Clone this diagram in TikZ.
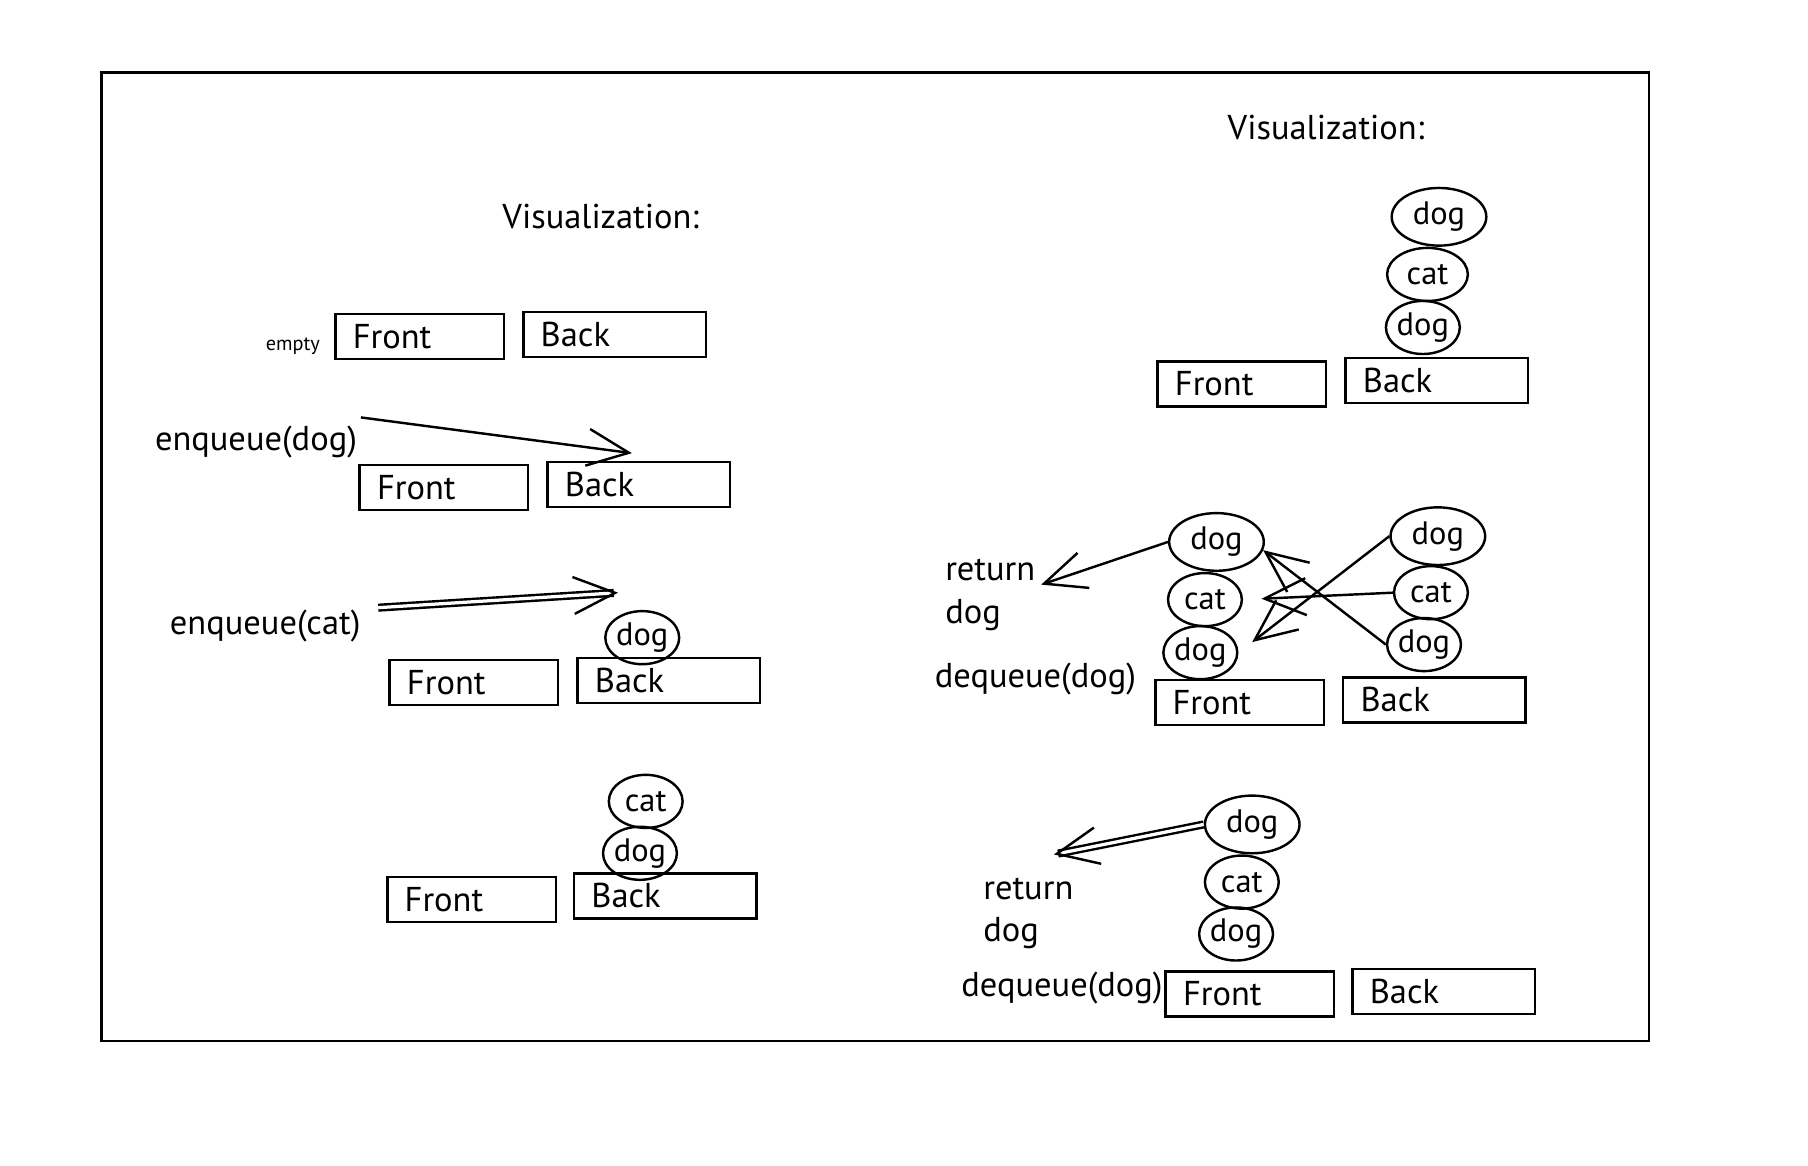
\documentclass[tikz,border=0pt]{standalone}
\usepackage{fontspec}
\setmainfont{PT Sans}
\usetikzlibrary{arrows.meta,shapes.geometric,positioning}

\begin{document}
\begin{tikzpicture}[
    x=0.01cm,y=-0.01cm,
    line width=0.6pt,
    every node/.style={font=\fontsize{8.5}{10.5}\selectfont},
    heading/.style={font=\fontsize{8.5}{10.5}\selectfont},
    tiny label/.style={font=\fontsize{5}{6}\selectfont},
    frontbox/.style={draw,align=left,minimum height=0.39cm,inner ysep=0pt,inner xsep=0.15cm,text width=1.16cm},
    backbox/.style={frontbox,text width=1.28cm},
    animal/.style={draw,ellipse,inner sep=0pt,minimum width=0.64cm,minimum height=0.46cm,font=\fontsize{8}{10}\selectfont},
    top animal/.style={animal,minimum width=0.82cm,minimum height=0.5cm},
    push/.style={-{Straight Barb[length=3.6mm,width=3.2mm]}},
    twin/.style={push,double,double distance=0.8pt},
  ]
  \useasboundingbox (0,0) rectangle (1568,1011);
  \draw (88,63) rectangle (1430,903);

  % left: enqueue
  \node[heading] (visL) at (521,188) {Visualization:};
  \node[frontbox] (front1) at (364,292) {Front};
  \node[backbox] (back1) at (533,290) {Back};
  \node[tiny label] (empty) at (254,300) {empty};

  \node (enq1) at (222,383) {enqueue(dog)};
  \node[frontbox] (front2) at (385,423) {Front};
  \node[backbox] (back2) at (554,420) {Back};
  \coordinate (enq1from) at (313,362);
  \coordinate (enq1to) at (548,393);
  \draw[push] (enq1from) -- (enq1to);

  \node (enq2) at (230,543) {enqueue(cat)};
  \node[frontbox] (front3) at (411,592) {Front};
  \node[backbox] (back3) at (580,590) {Back};
  \node[animal] (dog3) at (557,553) {dog};
  \coordinate (enq2from) at (328,527);
  \coordinate (enq2to) at (536,514);
  \draw[twin] (enq2from) -- (enq2to);

  \node[frontbox] (front4) at (409,780) {Front};
  \node[backbox] (back4) at (577,777) {Back};
  \node[animal] (dog4) at (555,740) {dog};
  \node[animal] (cat4) at (560,695) {cat};

  % right: full queue
  \node[heading] (visR) at (1150,111) {Visualization:};
  \node[frontbox] (frontT) at (1077,333) {Front};
  \node[backbox] (backT) at (1246,330) {Back};
  \node[animal] (dogT2) at (1234,284) {dog};
  \node[animal,minimum width=0.7cm] (catT) at (1238,238) {cat};
  \node[top animal] (dogT1) at (1248,188) {dog};

  % right: first dequeue
  \node[frontbox] (frontM) at (1075,609) {Front};
  \node[backbox] (backM) at (1244,607) {Back};
  \node[animal] (dogL2) at (1041,566) {dog};
  \node[animal] (catL) at (1045,520) {cat};
  \node[top animal] (dogL1) at (1055,470) {dog};
  \node[animal] (dogR2) at (1235,559) {dog};
  \node[animal] (catR) at (1241,514) {cat};
  \node[top animal] (dogR1) at (1247,465) {dog};
  \node[align=left,anchor=west] (retM) at (807,516) {return\\dog};
  \node (deqM) at (898,589) {dequeue(dog)};
  \coordinate (retMto) at (903,507);
  \draw[push] (dogL1.west) -- (retMto);
  \draw[push] (dogR2.west) -- (dogL1.-10);
  \draw[push,shorten >=1.6mm] (catR.west) -- (catL.east);
  \draw[push,shorten >=1.5mm] (dogR1.west) -- (dogL2.east);

  % right: second dequeue
  \node[frontbox] (frontB) at (1084,862) {Front};
  \node[backbox] (backB) at (1252,860) {Back};
  \node[animal] (dogB2) at (1072,810) {dog};
  \node[animal] (catB) at (1077,765) {cat};
  \node[top animal] (dogB1) at (1086,715) {dog};
  \node[align=left,anchor=west] (retB) at (840,792) {return\\dog};
  \node (deqB) at (921,857) {dequeue(dog)};
  \coordinate (retBto) at (914,741);
  \draw[twin] (dogB1.west) -- (retBto);
\end{tikzpicture}
\end{document}
